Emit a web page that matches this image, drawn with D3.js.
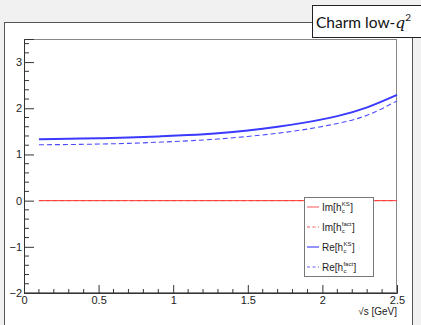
<!DOCTYPE html>
<html><head><meta charset="utf-8">
<script src="https://cdn.jsdelivr.net/npm/d3@7"></script>
<style>
html,body{margin:0;padding:0;background:#f1f1f1;}
svg{display:block;}
</style></head>
<body>
<svg id="c" width="421" height="325"></svg>
<script>
// ---- data ----
const sqrtS      = [0.1, 0.3, 0.5, 0.7, 0.9, 1.1, 1.3, 1.5, 1.7, 1.9, 2.1, 2.3, 2.5];
const reHKS      = [1.33, 1.34, 1.35, 1.365, 1.39, 1.42, 1.46, 1.52, 1.60, 1.70, 1.83, 2.02, 2.29];
const reHFact    = [1.21, 1.215, 1.225, 1.24, 1.265, 1.295, 1.335, 1.39, 1.46, 1.55, 1.67, 1.85, 2.16];
const imHKS      = [0, 0, 0, 0, 0, 0, 0, 0, 0, 0, 0, 0, 0];
const imHFact    = [0, 0, 0, 0, 0, 0, 0, 0, 0, 0, 0, 0, 0];
const xTicks     = [0, 0.5, 1, 1.5, 2, 2.5];
const xTickLabels= ["0", "0.5", "1", "1.5", "2", "2.5"];
const yTicks     = [-2, -1, 0, 1, 2, 3];
const yTickLabels= ["\u22122", "\u22121", "0", "1", "2", "3"];
const legendMain = ["Im[h", "Im[h", "Re[h", "Re[h"];
const legendSup  = ["KS", "fact", "KS", "fact"];
const titleText  = "Charm low-";

const series = [
  {vals: imHKS,   color: "#ff3b3b", width: 1,   dash: null},
  {vals: imHFact, color: "#ff3b3b", width: 1,   dash: "4,3"},
  {vals: reHKS,   color: "#3a3aff", width: 2,   dash: null},
  {vals: reHFact, color: "#4a4aff", width: 1.1, dash: "5,3"}
];

const svg = d3.select("#c");
const font = "'Liberation Sans', Arial, Helvetica, sans-serif";

// canvas pad
svg.append("rect").attr("x",4.5).attr("y",22.5).attr("width",408).attr("height",320)
  .attr("fill","#fff").attr("stroke","#555").attr("stroke-width",1);

const L=24, R=397, T=39, B=293;
const x = d3.scaleLinear().domain([0,2.5]).range([L,R]);
const y = d3.scaleLinear().domain([-2,3.5]).range([B,T]);

// frame
svg.append("rect").attr("x",L+0.5).attr("y",T+0.5).attr("width",R-L-1).attr("height",B-T-1)
  .attr("fill","none").attr("stroke","#888").attr("stroke-width",1);

// curves
const line = d3.line().x((d,i)=>x(sqrtS[i])).y(d=>y(d)).curve(d3.curveNatural);
series.forEach(s=>{
  svg.append("path").attr("d",line(s.vals)).attr("fill","none")
    .attr("stroke",s.color).attr("stroke-width",s.width)
    .attr("stroke-dasharray",s.dash);
});

// x axis
const xAxis = d3.axisBottom(x).tickValues(xTicks).tickSize(-8).tickPadding(3)
  .tickFormat((d,i)=>xTickLabels[i]);
const gx = svg.append("g").attr("transform",`translate(0,${B})`).call(xAxis);
gx.select(".domain").attr("stroke","#333");
gx.selectAll(".tick line").attr("stroke","#333");
gx.selectAll("text").attr("font-family",font).attr("font-size",11).attr("fill","#222").attr("dy","0.85em").attr("y",2);
const xMinor = d3.range(0,2.501,0.1).filter(v=>Math.abs(v*2-Math.round(v*2))>1e-6);
gx.selectAll(".minor").data(xMinor).enter().append("line")
  .attr("x1",d=>x(d)).attr("x2",d=>x(d)).attr("y1",0).attr("y2",-4).attr("stroke","#333");

// y axis
const yAxis = d3.axisLeft(y).tickValues(yTicks).tickSize(-10).tickPadding(3)
  .tickFormat((d,i)=>yTickLabels[i]);
const gy = svg.append("g").attr("transform",`translate(${L},0)`).call(yAxis);
gy.select(".domain").attr("stroke","#333");
gy.selectAll(".tick line").attr("stroke","#333");
gy.selectAll("text").attr("font-family",font).attr("font-size",11).attr("fill","#222").attr("x",-2);
const yMinor = d3.range(-2,3.501,0.2).filter(v=>Math.abs(v-Math.round(v))>1e-6);
gy.selectAll(".minor").data(yMinor).enter().append("line")
  .attr("x1",0).attr("x2",5).attr("y1",d=>y(d)).attr("y2",d=>y(d)).attr("stroke","#333");

// x title
const xt = svg.append("text").attr("x",R).attr("y",315).attr("text-anchor","end")
  .attr("font-family",font).attr("font-size",10).attr("fill","#222");
xt.append("tspan").text("\u221As [GeV]");

// legend
svg.append("rect").attr("x",304.5).attr("y",197.5).attr("width",69).attr("height",79)
  .attr("fill","#fff").attr("stroke","#777").attr("stroke-width",1);
const rowY = [207, 227, 247, 267];
series.forEach((s,i)=>{
  const cy = rowY[i];
  svg.append("line").attr("x1",307).attr("x2",319).attr("y1",cy).attr("y2",cy)
    .attr("stroke",s.color).attr("stroke-width",Math.min(s.width,1.3))
    .attr("stroke-dasharray",s.dash ? "3,2.5" : null).attr("opacity",0.85);
  const t = svg.append("text").attr("x",322).attr("y",cy+3.5)
    .attr("font-family",font).attr("font-size",10).attr("fill","#222").text(legendMain[i]);
  const w = t.node().getComputedTextLength();
  const sp = svg.append("text").attr("x",322+w+0.3).attr("y",cy-1.5)
    .attr("font-family",font).attr("font-size",6).attr("fill","#222").text(legendSup[i]);
  const sw = sp.node().getComputedTextLength();
  svg.append("text").attr("x",322+w+0.3).attr("y",cy+6)
    .attr("font-family",font).attr("font-size",6).attr("fill","#222").text("c");
  svg.append("text").attr("x",322+w+sw+0.8).attr("y",cy+3.5)
    .attr("font-family",font).attr("font-size",10).attr("fill","#222").text("]");
});

// title box
svg.append("rect").attr("x",312.5).attr("y",5.5).attr("width",120).attr("height",32)
  .attr("fill","#fff").attr("stroke","#222").attr("stroke-width",1);
const tt = svg.append("text").attr("x",316).attr("y",28)
  .attr("font-family","Lato, 'Open Sans', sans-serif").attr("font-size",15.5).attr("fill","#111");
tt.append("tspan").text(titleText);
tt.append("tspan").attr("font-family","'DejaVu Serif', serif").attr("font-style","italic").text("q");
tt.append("tspan").attr("font-size",10).attr("dy",-7).text("2");
</script>
</body></html>
